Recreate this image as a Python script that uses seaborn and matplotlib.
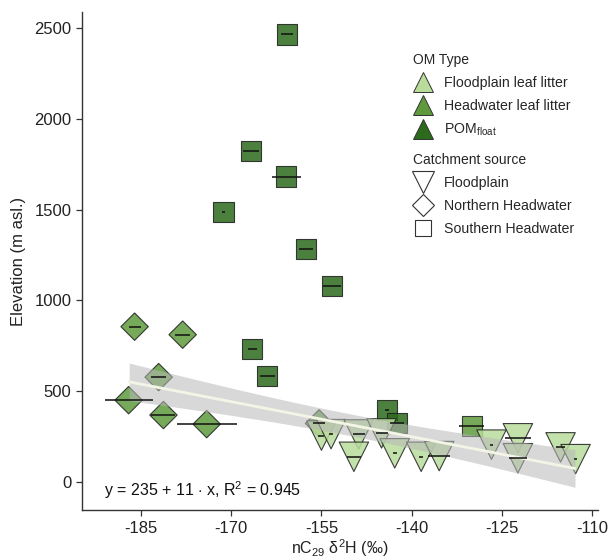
import numpy as np
import pandas as pd
import seaborn as sns
import matplotlib.pyplot as plt
from matplotlib.lines import Line2D

# 1. DATA
pom_x = [-160.8, -166.7, -160.85, -171.3, -157.6, -153.2, -166.5, -164.0, -144.1, -142.4]
pom_y = [2465, 1823, 1682, 1485, 1281, 1079, 730, 584, 395, 322]
pom_err = [1.0, 1.3, 2.4, 0.3, 1.2, 1.5, 0.7, 1.3, 0.3, 1.2]

hw_x = [-186.1, -178.1, -182.1, -187.1, -181.3, -174.1, -155.4, -130.0]
hw_y = [855, 811, 577, 450, 368, 318, 322, 307]
hw_err = [1.0, 1.2, 1.2, 4.0, 2.0, 5.0, 1.0, 2.1]
hw_src = ["Northern Headwater"] * 7 + ["Southern Headwater"]

fp_x = [-155.0, -153.4, -148.8, -149.6, -145.0, -142.8, -138.4, -135.4,
        -126.7, -122.3, -122.3, -115.2, -112.7]
fp_y = [255, 263, 261, 138, 267, 157, 138, 142, 205, 240, 130, 190, 125]
fp_err = [0.5, 0.4, 1.0, 1.2, 1.0, 0.3, 0.3, 1.8, 0.3, 2.2, 1.5, 0.8, 0.3]

om_types = ["Floodplain leaf litter", "Headwater leaf litter", "POM_float"]
om_labels = ["Floodplain leaf litter", "Headwater leaf litter", r"POM$_{\mathregular{float}}$"]
sources = ["Floodplain", "Northern Headwater", "Southern Headwater"]

# fitted line and confidence band (as drawn in the reference)
fit_range = [-187.0, -112.8]
fit_left_y, fit_slope = 551, -6.43
ci_min, ci_curv, ci_centre = 60, 5.2, -150.0

df = pd.DataFrame({
    "d2H": pom_x + hw_x + fp_x,
    "Elevation": pom_y + hw_y + fp_y,
    "err": pom_err + hw_err + fp_err,
    "OM": ["POM_float"] * len(pom_x) + ["Headwater leaf litter"] * len(hw_x)
          + ["Floodplain leaf litter"] * len(fp_x),
    "Source": ["Southern Headwater"] * len(pom_x) + hw_src + ["Floodplain"] * len(fp_x),
})

# 2. STYLE
sns.set_theme(style="ticks")
plt.rcParams["font.family"] = ["Liberation Sans", "DejaVu Sans"]
plt.rcParams["mathtext.fontset"] = "custom"
plt.rcParams["mathtext.rm"] = "Liberation Sans"
plt.rcParams["mathtext.it"] = "Liberation Sans:italic"
plt.rcParams["axes.unicode_minus"] = False

palette = {"Floodplain leaf litter": "#b9dc9b",
           "Headwater leaf litter": "#5e9a3c",
           "POM_float": "#2c6a1c"}
markers = {"Floodplain": "v", "Northern Headwater": "D", "Southern Headwater": "s"}
sizes = {"Floodplain": 450, "Northern Headwater": 195, "Southern Headwater": 210}

fig = plt.figure(figsize=(6.1, 5.6), dpi=100)
ax = fig.add_axes([0.134, 0.089, 0.846, 0.89])

# 3. POINTS
sns.scatterplot(data=df, x="d2H", y="Elevation", hue="OM", style="Source",
                size="Source", sizes=sizes, markers=markers, palette=palette,
                alpha=0.85, edgecolor="#1e1e1e", linewidth=0.8, legend=False,
                ax=ax, zorder=2)

# 4. REGRESSION LINE + CI
xs = np.linspace(fit_range[0], fit_range[1], 100)
ys = fit_left_y + fit_slope * (xs - fit_range[0])
half = np.sqrt(ci_min ** 2 + ci_curv * (xs - ci_centre) ** 2)
ax.fill_between(xs, ys - half, ys + half, color="#b8b8b8", alpha=0.55,
                linewidth=0, zorder=3)
sns.lineplot(x=xs, y=ys, color="#f3f6e6", linewidth=2, ax=ax, zorder=4)

# 5. ERROR BARS
ax.errorbar(df["d2H"], df["Elevation"], xerr=df["err"], fmt="none",
            ecolor="#111111", elinewidth=1.3, capsize=0, zorder=5, alpha=0.85)

ax.text(-191.2, -46, r"y = 235 + 11 $\cdot$ x, R$^2$ = 0.945", fontsize=11.5,
        va="center", ha="left", color="#111111")

# 6. AXES
ax.set_xlim(-194.9, -109)
ax.set_ylim(-156, 2590)
ax.set_xticks([-185, -170, -155, -140, -125, -110])
ax.set_yticks([0, 500, 1000, 1500, 2000, 2500])
ax.tick_params(labelsize=12, length=4, width=0.9, color="#333333",
               labelcolor="#222222")
for sp in ["left", "bottom"]:
    ax.spines[sp].set_color("#333333")
    ax.spines[sp].set_linewidth(1.0)
sns.despine(ax=ax)
ax.set_xlabel(r"nC$_{29}$ δ$^{2}$H (‰)", fontsize=11.5, color="#222222",
              labelpad=1)
ax.set_ylabel("Elevation (m asl.)", fontsize=12, color="#222222", labelpad=6)

# 7. LEGENDS
om_handles = [Line2D([], [], marker="^", linestyle="none", markersize=15,
                     markerfacecolor=palette[o], markeredgecolor="#333333",
                     markeredgewidth=0.7) for o in om_types]
src_handles = [Line2D([], [], marker=m, linestyle="none", markersize=ms,
                      markerfacecolor="white", markeredgecolor="#333333",
                      markeredgewidth=0.8)
               for m, ms in zip(["v", "D", "s"], [16, 11, 11])]

kw = dict(frameon=False, fontsize=10.2, title_fontsize=10, alignment="left",
          handlelength=1.4, handletextpad=0.78, labelspacing=0.62,
          borderpad=0, borderaxespad=0, loc="upper left")
fig.legend(om_handles, om_labels, title="OM Type",
           bbox_to_anchor=(0.677, 0.905), **kw)
fig.legend(src_handles, sources, title="Catchment source",
           bbox_to_anchor=(0.677, 0.726), **kw)

plt.savefig("out.png", dpi=100)
